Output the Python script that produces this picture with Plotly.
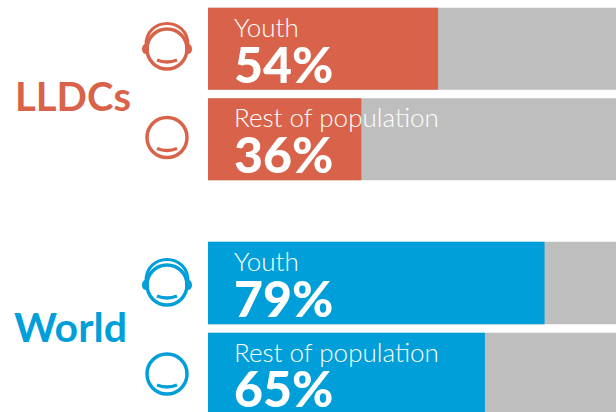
import plotly.graph_objects as go
from plotly.subplots import make_subplots

W, H = 616, 412
FONT = "Lato"
RED = "#D9634A"
BLUE = "#009FD9"
GREY = "#BEBEBE"

groups = ["LLDCs", "World"]
categories = ["Youth", "Rest of population"]
lldc_values = [54, 36]
world_values = [79, 65]
total = [100, 100]

PX_PER_PCT = 4.26
X0 = 208

fig = make_subplots(rows=2, cols=1)


def py(p):
    return 1 - p / H


def configure(row, top, bottom, band):
    xa = "xaxis" if row == 1 else "xaxis2"
    ya = "yaxis" if row == 1 else "yaxis2"
    fig.update_layout({
        xa: dict(domain=[X0 / W, 1], range=[0, (W - X0) / PX_PER_PCT], visible=False, fixedrange=True),
        ya: dict(domain=[py(bottom), py(top)], type="category", categoryorder="array",
                 categoryarray=categories, visible=False, fixedrange=True,
                 range=[-0.5 + (bottom - top) / band, -0.5]),
    })


def add_group(values, color, row):
    fig.add_trace(go.Bar(y=categories, x=total, orientation="h", marker=dict(color=GREY, line_width=0),
                         width=0.905, hoverinfo="skip", showlegend=False), row=row, col=1)
    fig.add_trace(go.Bar(y=categories, x=values, orientation="h", marker=dict(color=color, line_width=0),
                         width=0.905, showlegend=False), row=row, col=1)


add_group(lldc_values, RED, 1)
add_group(world_values, BLUE, 2)
fig.update_layout(barmode="overlay")
configure(1, 3.5, 184.5, 90.5)
configure(2, 237.5, 412, 91)


def face(cx, cy, color, headphones):
    r = 20
    fig.add_shape(type="circle", xref="paper", yref="paper", x0=(cx - r) / W, x1=(cx + r) / W,
                  y0=py(cy + r), y1=py(cy - r), line=dict(color=color, width=3.5), fillcolor="rgba(0,0,0,0)")
    path = f"M{(cx-10)/W},{py(cy+11)} Q{cx/W},{py(cy+15)} {(cx+10)/W},{py(cy+11)}"
    fig.add_shape(type="path", xref="paper", yref="paper", path=path, line=dict(color=color, width=3.5))
    if headphones:
        arc = (f"M{(cx-21)/W},{py(cy-3)} C{(cx-22)/W},{py(cy-33)} {(cx+22)/W},{py(cy-33)} "
               f"{(cx+21)/W},{py(cy-3)}")
        fig.add_shape(type="path", xref="paper", yref="paper", path=arc, line=dict(color=color, width=3))
        for s in (-1, 1):
            ex = cx + s * 21.5
            fig.add_shape(type="circle", xref="paper", yref="paper", x0=(ex - 3.5) / W, x1=(ex + 3.5) / W,
                          y0=py(cy + 5), y1=py(cy - 5), line_width=0, fillcolor=color)


face(167, 49, RED, True)
face(167, 137.5, RED, False)
face(167, 285, BLUE, True)
face(167, 374, BLUE, False)


def label(text, x, y, size, color="white", weight="normal"):
    fig.add_annotation(text=text, xref="paper", yref="paper", x=x / W, y=py(y), xanchor="left", yanchor="middle",
                       showarrow=False, borderpad=0, font=dict(family=FONT, size=size, color=color, weight=weight))


label(groups[0], 14, 96, 40, RED, "bold")
label(groups[1], 13, 326, 41, BLUE, "bold")

rows = [(categories[0], lldc_values[0], 27, 64), (categories[1], lldc_values[1], 117, 154),
        (categories[0], world_values[0], 261, 298), (categories[1], world_values[1], 352, 388)]
for name, value, y1, y2 in rows:
    label(name, 233, y1, 26, "white", 300)
    label(f"{value}%", 233, y2, 50, "white", 900)

fig.update_layout(width=W, height=H, margin=dict(l=0, r=0, t=0, b=0), paper_bgcolor="white",
                  plot_bgcolor="white", font=dict(family=FONT))
fig.write_html("out.html", config={"displayModeBar": False},
               post_script="document.body.style.margin='0';document.documentElement.style.overflow='hidden';")
